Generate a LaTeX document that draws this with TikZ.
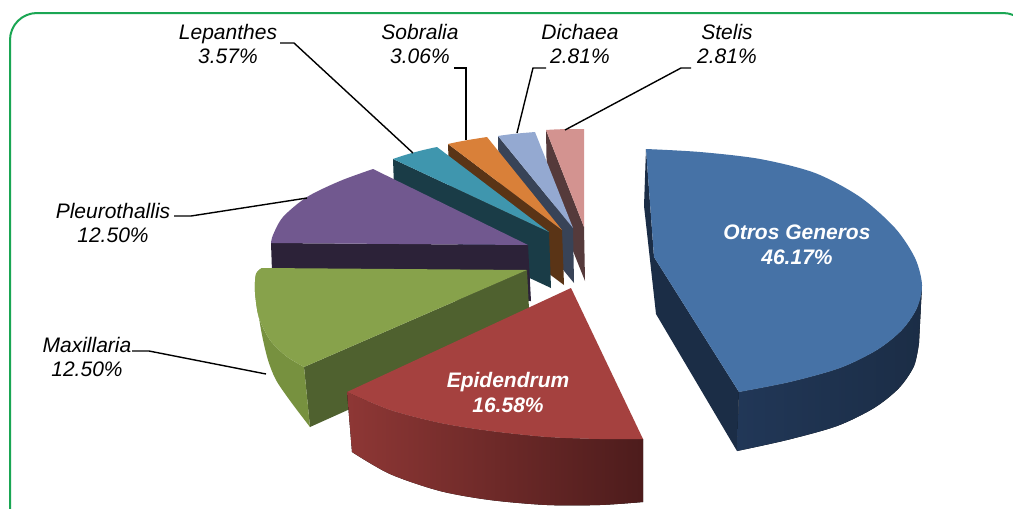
\documentclass[tikz,border=0pt]{standalone}
\usepackage{fontspec}
\setmainfont{Liberation Sans}
\definecolor{frameG}{HTML}{1AA653}
\definecolor{otrTop}{HTML}{4672A6}
\definecolor{otrSide}{HTML}{1B2D46}
\definecolor{otrSideL}{HTML}{213757}
\definecolor{epiTop}{HTML}{A5413F}
\definecolor{epiL}{HTML}{8E3735}
\definecolor{epiR}{HTML}{4D1C1C}
\definecolor{maxTop}{HTML}{87A24B}
\definecolor{maxSide}{HTML}{4F612F}
\definecolor{maxOuter}{HTML}{77913F}
\definecolor{pleTop}{HTML}{71588F}
\definecolor{pleSide}{HTML}{2C2238}
\definecolor{lepTop}{HTML}{3F96AE}
\definecolor{lepSide}{HTML}{1A3C47}
\definecolor{sobTop}{HTML}{D98039}
\definecolor{sobSide}{HTML}{5A3416}
\definecolor{dicTop}{HTML}{94A9D1}
\definecolor{dicSide}{HTML}{384357}
\definecolor{steTop}{HTML}{D39390}
\definecolor{steSide}{HTML}{553A3B}
\begin{document}
\begin{tikzpicture}[x=1pt,y=-1pt,
  lbl/.style={font=\fontsize{21}{24}\selectfont\itshape, align=center, inner sep=0pt},
  inlbl/.style={font=\fontsize{21}{25}\selectfont\bfseries\itshape, text=white, align=center, inner sep=0pt},
  leader/.style={draw=black, line width=1.4pt},
  framebox/.style={draw=frameG, line width=2pt, rounded corners=27pt}
]
\useasboundingbox (0,0) rectangle (1013,509);
\fill[white] (0,0) rectangle (1013,509);
\draw[framebox] (10,560) -- (10,13) -- (1030,13) -- (1030,560);

% Stelis
\fill[steSide] (546,130) -- (584,227) -- (585,281) -- (547,186) -- cycle;
\fill[steTop] (584,227) -- (546,130) .. controls (559,129) and (571,129) .. (584,129) -- cycle;
% Dichaea
\fill[dicSide] (498,136) -- (573,228) -- (574,283) -- (499,192) -- cycle;
\fill[dicTop] (573,228) -- (498,136) .. controls (510,134) and (523,133) .. (535,132) -- cycle;
% Sobralia
\fill[sobSide] (448,144) -- (562,230) -- (564,285) -- (450,200) -- cycle;
\fill[sobTop] (562,230) -- (448,144) .. controls (461,141) and (474,139) .. (487,137) -- cycle;
% Lepanthes
\fill[lepSide] (393,159) -- (549,232) -- (551,288) -- (395,215) -- cycle;
\fill[lepTop] (549,232) -- (393,159) .. controls (407,154) and (422,150) .. (437,147) -- cycle;
% Pleurothallis
\fill[pleSide] (271,243) -- (528,245) -- (531,301) -- (273,300) -- cycle;
\fill[pleTop] (528,245) -- (373,169) -- plot[smooth] coordinates {(373,169) (340,181) (307,197) (283,217) (273,235) (271,243)} -- cycle;
% Maxillaria
\fill[maxSide] (527,270) -- (304,367) -- (310,427) -- (530,328) -- cycle;
\fill[maxOuter] plot[smooth] coordinates {(262,268) (256,274) (255,292) (259,318) (270,340) (286,356) (304,367)} -- (310,427) -- plot[smooth] coordinates {(310,427) (291,402) (276,380) (268,360) (262,335) (257,305) (255,285)} -- cycle;
\fill[maxTop] (527,270) -- (262,268) -- plot[smooth] coordinates {(262,268) (256,274) (255,292) (259,318) (270,340) (286,356) (304,367)} -- cycle;
% Epidendrum
\fill[left color=epiL, right color=epiR] plot[smooth] coordinates {(347,392) (390,410) (440,423) (490,431) (547,437) (600,439) (643,439)} -- (643,502) -- plot[smooth] coordinates {(643,502) (600,505) (547,505) (490,500) (440,491) (390,474) (352,452)} -- cycle;
\fill[epiTop] (571,288) -- (347,392) -- plot[smooth] coordinates {(347,392) (390,410) (440,423) (490,431) (547,437) (600,439) (643,439)} -- cycle;
% Otros Generos
\fill[otrSide] (646,149) -- (654,257) -- (739,392) -- (737,451) -- (656,314) -- (644,206) -- cycle;
\fill[left color=otrSideL, right color=otrSide] plot[smooth] coordinates {(922,285) (917,308) (902,330) (877,350) (840,368) (790,382) (739,392)} -- (737,451) -- plot[smooth] coordinates {(737,451) (787,440) (837,426) (874,408) (899,388) (914,366) (919,343)} -- cycle;
\fill[otrTop] (654,257) -- (646,149) -- plot[smooth] coordinates {(646,149) (700,152) (760,159) (815,173) (860,197) (895,228) (915,258) (922,285) (917,308) (902,330) (877,350) (840,368) (790,382) (739,392)} -- cycle;

% labels
\node[lbl] (lep) at (228,43.6) {Lepanthes\\3.57\%};
\node[lbl] (sob) at (420,43.6) {Sobralia\\3.06\%};
\node[lbl] (dic) at (580,43.6) {Dichaea\\2.81\%};
\node[lbl] (ste) at (727,43.6) {Stelis\\2.81\%};
\node[lbl] (ple) at (113,222.6) {Pleurothallis\\12.50\%};
\node[lbl] (max) at (87,356.6) {Maxillaria\\12.50\%};
\node[inlbl] (otr) at (797,245) {Otros Generos\\46.17\%};
\node[inlbl] (epi) at (508,392) {Epidendrum\\16.58\%};

% leader coordinates
\coordinate (lepA) at (280,43); \coordinate (lepB) at (294,43); \coordinate (lepC) at (413,153);
\coordinate (sobA) at (454,68); \coordinate (sobB) at (466,68); \coordinate (sobC) at (466,140);
\coordinate (dicA) at (546,68); \coordinate (dicB) at (533,68); \coordinate (dicC) at (517,133);
\coordinate (steA) at (691,68); \coordinate (steB) at (681,68); \coordinate (steC) at (565,130);
\coordinate (pleA) at (174,216); \coordinate (pleB) at (191,216); \coordinate (pleC) at (307,198);
\coordinate (maxA) at (132,351); \coordinate (maxB) at (149,351); \coordinate (maxC) at (266,374);
\draw[leader] (lepA) -- (lepB) -- (lepC);
\draw[leader] (sobA) -- (sobB) -- (sobC);
\draw[leader] (dicA) -- (dicB) -- (dicC);
\draw[leader] (steA) -- (steB) -- (steC);
\draw[leader] (pleA) -- (pleB) -- (pleC);
\draw[leader] (maxA) -- (maxB) -- (maxC);
\end{tikzpicture}
\end{document}
